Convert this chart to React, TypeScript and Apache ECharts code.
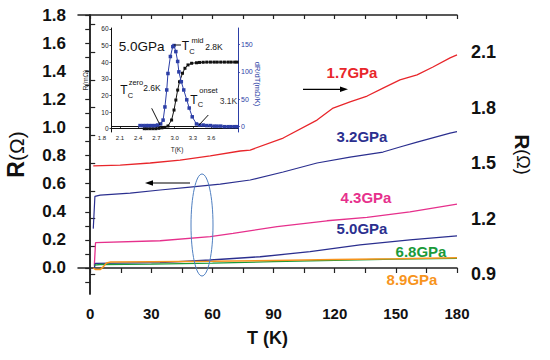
import React, { useEffect, useRef } from "react";
import * as echarts from "echarts";

const FONT = "'Liberation Sans', Arial, Helvetica, sans-serif";

// ---- main plot data (T in K, R in Ohm) ----
const t17 = [1.5, 14.7, 29.4, 44.1, 58.9, 73.6, 78.5, 94.7, 111.3, 119.2, 127.5, 135.9, 143.7, 152, 160.4, 168.2, 176.6, 180];
const r17 = [1.484, 1.489, 1.5, 1.516, 1.538, 1.565, 1.57, 1.635, 1.732, 1.797, 1.83, 1.862, 1.905, 1.949, 1.976, 2.019, 2.068, 2.084];

const t32 = [1.5, 2.3, 4.9, 19.6, 34.3, 49, 63.8, 78.5, 94.7, 111.3, 127.5, 143.7, 152, 160.4, 176.6, 180];
const r32 = [0.28, 0.51, 0.519, 0.533, 0.555, 0.576, 0.597, 0.626, 0.683, 0.747, 0.789, 0.825, 0.861, 0.896, 0.96, 0.97];

const t43 = [2.0, 2.6, 34.3, 58.9, 70.1, 91.7, 116.2, 135.8, 156.9, 180];
const r43 = [0.015, 0.18, 0.194, 0.223, 0.247, 0.294, 0.336, 0.36, 0.4, 0.455];

const t50 = [2.0, 2.5, 34.3, 58.9, 83.4, 107.9, 132.4, 156.9, 180];
const r50 = [0.0, 0.033, 0.038, 0.057, 0.08, 0.116, 0.164, 0.2, 0.228];

const t68 = [2.0, 5, 30, 60, 90, 120, 150, 180];
const r68 = [0.02, 0.025, 0.028, 0.035, 0.045, 0.055, 0.063, 0.068];

const t89 = [1.5, 2.5, 5, 6.5, 8, 10, 30, 60, 90, 120, 150, 180];
const r89 = [0.0, -0.01, -0.01, 0.01, 0.035, 0.042, 0.044, 0.048, 0.054, 0.06, 0.066, 0.073];

// ---- inset data (5.0 GPa) ----
const tInsetR = [2.5, 2.54, 2.59, 2.64, 2.69, 2.74, 2.79, 2.84, 2.89, 2.95, 2.99, 3.02, 3.05, 3.08, 3.13, 3.17, 3.22, 3.28, 3.36, 3.41, 3.47, 3.53, 3.59, 3.65, 3.7, 3.76, 3.82, 3.88, 3.93, 3.99, 4.03];
const rInset = [0, 0, 0, 0, 0, 0.2, 0.5, 0.8, 1.6, 5.2, 11.2, 17.2, 23.2, 28.2, 33.3, 36.3, 38.3, 39.3, 39.6, 39.8, 39.9, 40, 40, 40, 40, 40, 40, 40, 40, 40, 40];

const tInsetD = [2.43, 2.48, 2.53, 2.57, 2.62, 2.67, 2.72, 2.77, 2.81, 2.84, 2.87, 2.89, 2.93, 2.97, 2.99, 3.02, 3.05, 3.07, 3.11, 3.15, 3.2, 3.24, 3.29, 3.36, 3.41, 3.47, 3.53, 3.59, 3.65, 3.7, 3.76, 3.82, 3.88, 3.93, 3.99, 4.03];
const dInset = [2, 2, 2, 2, 2, 2, 3, 5, 12, 36, 67, 97, 128, 146, 148, 137, 119, 100, 82, 67, 49, 34, 18, 5, 3, 3, 2, 2, 1, 1, 1, 0, 0, 0, 0, 0];

// ---- tick labels ----
const xLabels = [0, 30, 60, 90, 120, 150, 180];
const xTicks = [0, 15, 30, 45, 60, 75, 90, 105, 120, 135, 150, 165, 180];
const yLeftLabels = [0, 0.2, 0.4, 0.6, 0.8, 1.0, 1.2, 1.4, 1.6, 1.8];
const yLeftTicks = [-0.1, 0, 0.1, 0.2, 0.3, 0.4, 0.5, 0.6, 0.7, 0.8, 0.9, 1.0, 1.1, 1.2, 1.3, 1.4, 1.5, 1.6, 1.7, 1.8];
const yRightLabels = [0.9, 1.2, 1.5, 1.8, 2.1];
const yRightTicks = [0.9, 1.05, 1.2, 1.35, 1.5, 1.65, 1.8, 1.95, 2.1, 2.25];
const insetXLabels = [2.1, 2.4, 2.7, 3.0, 3.3, 3.6];
const insetYLeft = [0, 10, 20, 30, 40, 50, 60];
const insetYRight = [0, 50, 100, 150];

const RED = "#e8262b";
const NAVY = "#2b2f8f";
const MAGENTA = "#e6308c";
const GREEN = "#1a9a3a";
const ORANGE = "#f7941d";
const IBLUE = "#2c3ea6";

const zip = (a: number[], b: number[]) => a.map((t, i) => [t, b[i]]);

const txt = (text: string, x: number, y: number, size: number, color: string, weight = "normal", align = "center", rotation = 0) => ({
  type: "text",
  x,
  y,
  rotation,
  z: 50,
  style: {
    text,
    fill: color,
    fontSize: size,
    fontWeight: weight,
    fontFamily: FONT,
    align,
    textAlign: align,
    verticalAlign: "middle",
    textVerticalAlign: "middle",
  },
});

const line = (x1: number, y1: number, x2: number, y2: number, color = "#000", w = 1) => ({
  type: "line",
  z: 50,
  shape: { x1, y1, x2, y2 },
  style: { stroke: color, lineWidth: w },
});

export default function App() {
  const ref = useRef<HTMLDivElement>(null);
  useEffect(() => {
    const chart = echarts.init(ref.current!, null, { renderer: "svg" });
    const axisCol = "#222";
    const mainLine = (data: number[][], color: string, yIdx: number, w = 1.3) => ({
      type: "line",
      xAxisIndex: 0,
      yAxisIndex: yIdx,
      data,
      showSymbol: false,
      symbol: "none",
      lineStyle: { color, width: w },
      itemStyle: { color },
    });
    const option: any = {
      animation: false,
      backgroundColor: "#fff",
      grid: [
        { left: 78, top: 15, width: 379, height: 279, containLabel: false, outerBoundsMode: "none" },
        { left: 111.5, top: 28, width: 126.5, height: 104, containLabel: false, outerBoundsMode: "none" },
      ],
      xAxis: [
        {
          gridIndex: 0, type: "value", min: -6, max: 180, position: "bottom",
          axisLine: { show: true, lineStyle: { color: axisCol, width: 1.5 } },
          axisTick: { show: true, customValues: xTicks, length: 5, lineStyle: { color: axisCol, width: 1.2 } },
          axisLabel: { customValues: xLabels, fontSize: 15, fontWeight: "bold", color: "#111", fontFamily: FONT, margin: 12 },
          splitLine: { show: false },
          name: "T (K)", nameLocation: "middle", nameGap: 35,
          nameTextStyle: { fontSize: 18, fontWeight: "bold", color: "#111", fontFamily: FONT },
        },
        {
          gridIndex: 0, type: "value", min: -6, max: 180, position: "top",
          axisLine: { show: true, lineStyle: { color: axisCol, width: 1.5 } },
          axisTick: { show: true, inside: true, customValues: xTicks, length: 4, lineStyle: { color: axisCol, width: 1.2 } },
          axisLabel: { show: false },
          splitLine: { show: false },
        },
        {
          gridIndex: 1, type: "value", min: 1.96, max: 4.044, position: "bottom",
          axisLine: { show: true, lineStyle: { color: "#111", width: 1 } },
          axisTick: { show: true, inside: true, customValues: insetXLabels, length: 2, lineStyle: { color: "#111", width: 0.8 } },
          axisLabel: { customValues: insetXLabels, formatter: (v: number) => v.toFixed(1), fontSize: 6, color: "#222", fontFamily: FONT, margin: 3 },
          splitLine: { show: false },
        },
        {
          gridIndex: 1, type: "value", min: 1.96, max: 4.044, position: "top",
          axisLine: { show: true, lineStyle: { color: "#111", width: 1 } },
          axisTick: { show: false },
          axisLabel: { show: false },
          splitLine: { show: false },
        },
      ],
      yAxis: [
        {
          gridIndex: 0, type: "value", min: -0.185, max: 1.8, position: "left",
          axisLine: { show: true, lineStyle: { color: axisCol, width: 1.5 } },
          axisTick: { show: true, customValues: yLeftTicks, length: 5, lineStyle: { color: axisCol, width: 1.2 } },
          axisLabel: { customValues: yLeftLabels, formatter: (v: number) => v.toFixed(1), fontSize: 17, fontWeight: "bold", color: "#111", fontFamily: FONT, margin: 12 },
          splitLine: { show: false },
          name: "{b|R}{n|(Ω)}", nameLocation: "middle", nameGap: 50, nameRotate: 90,
          nameTextStyle: {
            rich: {
              b: { fontSize: 23, fontWeight: "bold", fontFamily: FONT, color: "#111", lineHeight: 24 },
              n: { fontSize: 21, fontFamily: FONT, color: "#111", lineHeight: 24 },
            },
          },
        },
        {
          gridIndex: 0, type: "value", min: 0.792, max: 2.3, position: "right",
          axisLine: { show: true, lineStyle: { color: axisCol, width: 1.5 } },
          axisTick: { show: true, customValues: yRightTicks, length: 5, lineStyle: { color: axisCol, width: 1.2 } },
          axisLabel: { customValues: yRightLabels, formatter: (v: number) => v.toFixed(1), fontSize: 18, fontWeight: "bold", color: "#111", fontFamily: FONT, margin: 14 },
          splitLine: { show: false },
          name: "{b|R}{n|(Ω)}", nameLocation: "middle", nameGap: 55, nameRotate: -90,
          nameTextStyle: {
            rich: {
              b: { fontSize: 21, fontWeight: "bold", fontFamily: FONT, color: "#111" },
              n: { fontSize: 18, fontFamily: FONT, color: "#111" },
            },
          },
        },
        {
          gridIndex: 1, type: "value", min: -2, max: 60.5, position: "left",
          axisLine: { show: true, lineStyle: { color: "#111", width: 1 } },
          axisTick: { show: true, customValues: insetYLeft, length: 2, lineStyle: { color: "#111", width: 0.8 } },
          axisLabel: { customValues: insetYLeft, fontSize: 6.5, color: "#222", fontFamily: FONT, margin: 3 },
          splitLine: { show: false },
        },
        {
          gridIndex: 1, type: "value", min: -9.7, max: 180, position: "right",
          axisLine: { show: true, lineStyle: { color: IBLUE, width: 1 } },
          axisTick: { show: true, customValues: insetYRight, length: 2, lineStyle: { color: IBLUE, width: 0.8 } },
          axisLabel: { customValues: insetYRight, fontSize: 7, color: IBLUE, fontFamily: FONT, margin: 3 },
          splitLine: { show: false },
        },
      ],
      series: [
        mainLine(zip(t17, r17), RED, 1, 1.3),
        mainLine(zip(t32, r32), NAVY, 0, 1.2),
        mainLine(zip(t43, r43), MAGENTA, 0, 1.3),
        mainLine(zip(t50, r50), NAVY, 0, 1.3),
        mainLine(zip(t68, r68), GREEN, 0, 1.3),
        mainLine(zip(t89, r89), ORANGE, 0, 1.5),
        {
          type: "line", xAxisIndex: 2, yAxisIndex: 2, data: zip(tInsetR, rInset),
          symbol: "rect", symbolSize: 3, showSymbol: true,
          lineStyle: { color: "#111", width: 1 }, itemStyle: { color: "#111" },
        },
        {
          type: "line", xAxisIndex: 2, yAxisIndex: 3, data: zip(tInsetD, dInset),
          symbol: "rect", symbolSize: 3.5, showSymbol: true,
          lineStyle: { color: IBLUE, width: 1 }, itemStyle: { color: IBLUE },
        },
      ],
      graphic: [
        // series labels
        txt("1.7GPa", 352, 72, 15, RED, "bold"),
        txt("3.2GPa", 362, 136, 15, NAVY, "bold"),
        txt("4.3GPa", 366, 197, 15, MAGENTA, "bold"),
        txt("5.0GPa", 362, 228, 15, NAVY, "bold"),
        txt("6.8GPa", 421, 251, 15, GREEN, "bold"),
        txt("8.9GPa", 412, 279, 15, ORANGE, "bold"),
        // arrows
        line(303, 89.3, 342, 89.3, "#000", 1.2),
        { type: "polygon", z: 50, shape: { points: [[348, 89.3], [340, 86.5], [340, 92.1]] }, style: { fill: "#000" } },
        line(190, 183, 152, 183, "#000", 1.2),
        { type: "polygon", z: 50, shape: { points: [[145, 183], [153, 180.2], [153, 185.8]] }, style: { fill: "#000" } },
        {
          type: "ellipse", z: 50, shape: { cx: 202, cy: 225, rx: 11, ry: 51 },
          style: { fill: "transparent", stroke: "#4f7fc1", lineWidth: 1 },
        },
        // inset texts
        txt("1.8", 102, 138, 6, "#222"),
        txt("T(K)", 177, 149, 6.5, "#222"),
        txt("R(mΩ)", 85, 80, 7, "#333", "normal", "center", Math.PI / 2),
        txt("dR/dT(mΩ/K)", 257, 84, 7.5, IBLUE, "normal", "center", -Math.PI / 2),
        txt("5.0GPa", 141.7, 46.7, 13.5, "#111"),
        line(174, 45, 181, 45, "#111", 1),
        txt("T", 185.5, 46, 12, "#111"),
        txt("C", 192, 51, 7.5, "#111"),
        txt("mid", 197.5, 40.5, 7.5, "#111"),
        txt("2.8K", 214, 47.3, 8.5, "#111"),
        txt("T", 124, 90, 12, "#111"),
        txt("C", 130.5, 95, 7.5, "#111"),
        txt("zero", 136, 82.5, 7.5, "#111"),
        txt("2.6K", 152, 88, 8.5, "#111"),
        txt("T", 194, 99.5, 12, "#111"),
        txt("C", 200.5, 104.5, 7.5, "#111"),
        txt("onset", 208.5, 90.5, 7.5, "#111"),
        txt("3.1K", 228.5, 100.5, 8.5, "#333"),
        line(151.7, 108.3, 160, 125, "#111", 1),
        line(208.3, 115, 199, 125, "#111", 1),
      ],
    };
    chart.setOption(option);
    return () => chart.dispose();
  }, []);
  return <div ref={ref} style={{ position: "fixed", left: 0, top: 0, width: 550, height: 360 }} />;
}
